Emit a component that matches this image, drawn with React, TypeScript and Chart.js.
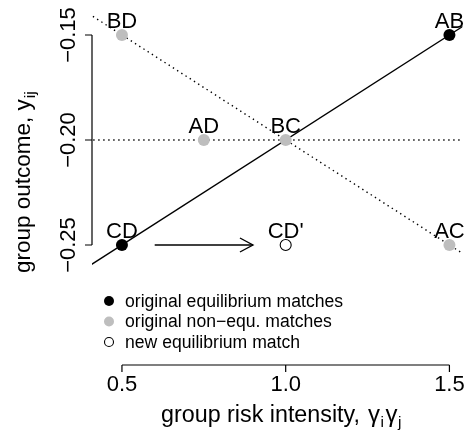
import React, { useEffect, useRef } from "react";
import { Chart, registerables } from "chart.js";

Chart.register(...registerables);

// ---- data ----
const xTicks = [0.5, 1.0, 1.5];
const xTickLabels = ["0.5", "1.0", "1.5"];
const yTicks = [-0.25, -0.2, -0.15];
const yTickLabels = ["\u22120.25", "\u22120.20", "\u22120.15"];

const eqLabels = ["CD", "AB"];
const eqX = [0.5, 1.5];
const eqY = [-0.25, -0.15];

const nonEqLabels = ["BD", "AD", "BC", "AC"];
const nonEqX = [0.5, 0.75, 1.0, 1.5];
const nonEqY = [-0.15, -0.2, -0.2, -0.25];

const newLabels = ["CD'"];
const newX = [1.0];
const newY = [-0.25];

const solidLineX = [0.0, 2.0];
const solidLineY = [-0.3, -0.1];
const diagLineX = [0.0, 2.0];
const diagLineY = [-0.1, -0.3];
const hLineX = [0.0, 2.0];
const hLineY = [-0.2, -0.2];
const arrowX = [0.6, 0.9];
const arrowY = [-0.25, -0.25];

const legendLabels = [
  "original equilibrium matches",
  "original non\u2212equ. matches",
  "new equilibrium match",
];

const xMin = 0.40854;
const xMax = 1.53963;
const yMin = -0.307143;
const yMax = -0.140476;

const FONT = '"Liberation Sans", Arial, Helvetica, sans-serif';
const GRAY = "#BEBEBE";
const LW = 1.4;

const zip = (xs: number[], ys: number[]) => xs.map((x, i) => ({ x, y: ys[i] }));

const overlay = {
  id: "overlay",
  beforeDraw(chart: any) {
    const ctx = chart.ctx;
    ctx.save();
    ctx.fillStyle = "#fff";
    ctx.fillRect(0, 0, chart.width, chart.height);
    ctx.restore();
  },
  afterDatasetsDraw(chart: any) {
    const ctx: CanvasRenderingContext2D = chart.ctx;
    const xs = chart.scales.x;
    const ys = chart.scales.y;
    const area = chart.chartArea;
    ctx.save();
    ctx.fillStyle = "#000";
    ctx.strokeStyle = "#000";
    ctx.lineWidth = LW;

    // arrow head
    const tx = xs.getPixelForValue(arrowX[1]);
    const ty = ys.getPixelForValue(arrowY[1]);
    ctx.beginPath();
    ctx.moveTo(tx - 13, ty - 7);
    ctx.lineTo(tx, ty);
    ctx.lineTo(tx - 13, ty + 7);
    ctx.stroke();

    // point labels
    ctx.font = `22px ${FONT}`;
    ctx.textAlign = "center";
    ctx.textBaseline = "alphabetic";
    const drawLabels = (labels: string[], lx: number[], ly: number[]) => {
      labels.forEach((l, i) => {
        ctx.fillText(l, xs.getPixelForValue(lx[i]), ys.getPixelForValue(ly[i]) - 7);
      });
    };
    drawLabels(eqLabels, eqX, eqY);
    drawLabels(nonEqLabels, nonEqX, nonEqY);
    drawLabels(newLabels, newX, newY);

    // x axis
    const axY = area.bottom;
    const x0 = xs.getPixelForValue(xTicks[0]);
    const x1 = xs.getPixelForValue(xTicks[xTicks.length - 1]);
    ctx.lineWidth = 1.2;
    ctx.beginPath();
    ctx.moveTo(x0, axY);
    ctx.lineTo(x1, axY);
    xTicks.forEach((t) => {
      const p = xs.getPixelForValue(t);
      ctx.moveTo(p, axY);
      ctx.lineTo(p, axY + 7);
    });
    ctx.stroke();
    ctx.textAlign = "center";
    xTicks.forEach((t, i) => {
      ctx.fillText(xTickLabels[i], xs.getPixelForValue(t), axY + 26);
    });

    // x title with subscripts
    const titleF = `23.3px ${FONT}`;
    const gammaF = `24px ${FONT}`;
    const subF = `15.5px ${FONT}`;
    const xParts: [string, string, number, number][] = [
      ["group risk intensity, ", titleF, 0, 1.5],
      ["\u03b3", gammaF, 0, 0.5],
      ["i", subF, 5, 1.5],
      ["\u03b3", gammaF, 0, 0.5],
      ["j", subF, 5, 0],
    ];
    ctx.textAlign = "left";
    let cx = 161;
    xParts.forEach(([s, f, dy, gap]) => {
      ctx.font = f;
      ctx.fillText(s, cx, 422 + dy);
      cx += ctx.measureText(s).width + gap;
    });

    // y axis
    const axX = area.left;
    const yA = ys.getPixelForValue(yTicks[0]);
    const yB = ys.getPixelForValue(yTicks[yTicks.length - 1]);
    ctx.beginPath();
    ctx.moveTo(axX, yA);
    ctx.lineTo(axX, yB);
    yTicks.forEach((t) => {
      const p = ys.getPixelForValue(t);
      ctx.moveTo(axX, p);
      ctx.lineTo(axX - 7, p);
    });
    ctx.stroke();
    ctx.font = `22px ${FONT}`;
    ctx.textAlign = "center";
    yTicks.forEach((t, i) => {
      const p = ys.getPixelForValue(t);
      ctx.save();
      ctx.translate(axX - 17, p);
      ctx.rotate(-Math.PI / 2);
      ctx.fillText(yTickLabels[i], 0, 0);
      ctx.restore();
    });

    // y title
    const yParts: [string, string, number, number][] = [
      ["group outcome, y", `22.5px ${FONT}`, 0, 1],
      ["ij", subF, 5, 0],
    ];
    ctx.save();
    ctx.translate(30, 273);
    ctx.rotate(-Math.PI / 2);
    ctx.textAlign = "left";
    let cy = 0;
    yParts.forEach(([s, f, dy, gap]) => {
      ctx.font = f;
      ctx.fillText(s, cy, dy);
      cy += ctx.measureText(s).width + gap;
    });
    ctx.restore();

    // legend
    const lgX = area.left + 17;
    const lgY0 = 301;
    const lgDy = 20.5;
    ctx.font = `17.6px ${FONT}`;
    ctx.textAlign = "left";
    ctx.textBaseline = "middle";
    legendLabels.forEach((l, i) => {
      const yy = lgY0 + i * lgDy;
      ctx.beginPath();
      ctx.arc(lgX, yy, i === 2 ? 4.5 : 5, 0, Math.PI * 2);
      if (i === 0) {
        ctx.fillStyle = "#000";
        ctx.fill();
      } else if (i === 1) {
        ctx.fillStyle = GRAY;
        ctx.fill();
      } else {
        ctx.fillStyle = "#fff";
        ctx.fill();
        ctx.lineWidth = 1.1;
        ctx.strokeStyle = "#000";
        ctx.stroke();
      }
      ctx.fillStyle = "#000";
      ctx.fillText(l, lgX + 16, yy + 1);
    });
    ctx.restore();
  },
};

export default function App() {
  const ref = useRef<HTMLCanvasElement | null>(null);
  useEffect(() => {
    if (!ref.current) return;
    const chart = new Chart(ref.current, {
      type: "scatter",
      data: {
        datasets: [
          {
            label: "equilibrium",
            data: zip(eqX, eqY),
            pointRadius: 6,
            pointBackgroundColor: "#000",
            pointBorderColor: "#000",
            pointBorderWidth: 0,
            showLine: false,
            order: 0,
          },
          {
            label: "non-equ",
            data: zip(nonEqX, nonEqY),
            pointRadius: 6,
            pointBackgroundColor: GRAY,
            pointBorderColor: GRAY,
            pointBorderWidth: 0,
            showLine: false,
            order: 0,
          },
          {
            label: "new",
            data: zip(newX, newY),
            pointRadius: 5.5,
            pointBackgroundColor: "#fff",
            pointBorderColor: "#000",
            pointBorderWidth: 1.1,
            showLine: false,
            order: 0,
          },
          {
            label: "solid",
            data: zip(solidLineX, solidLineY),
            showLine: true,
            borderColor: "#000",
            borderWidth: LW,
            pointRadius: 0,
            order: 1,
          },
          {
            label: "diag",
            data: zip(diagLineX, diagLineY),
            showLine: true,
            borderColor: "#000",
            borderWidth: LW,
            borderDash: [1.4, 3.6],
            pointRadius: 0,
            order: 2,
          },
          {
            label: "h",
            data: zip(hLineX, hLineY),
            showLine: true,
            borderColor: "#000",
            borderWidth: LW,
            borderDash: [1.4, 3.6],
            pointRadius: 0,
            order: 2,
          },
          {
            label: "arrow",
            data: zip(arrowX, arrowY),
            showLine: true,
            borderColor: "#000",
            borderWidth: LW,
            pointRadius: 0,
            order: 1,
          },
        ],
      },
      options: {
        animation: false,
        responsive: false,
        maintainAspectRatio: false,
        layout: { padding: { left: 92, right: 6, top: 15, bottom: 69 } },
        plugins: { legend: { display: false }, tooltip: { enabled: false } },
        events: [],
        scales: {
          x: { type: "linear", min: xMin, max: xMax, display: false },
          y: { type: "linear", min: yMin, max: yMax, display: false },
        },
      },
      plugins: [overlay],
    });
    return () => chart.destroy();
  }, []);
  return (
    <div style={{ position: "fixed", left: 0, top: 0, width: 469, height: 434, background: "#fff" }}>
      <canvas ref={ref} width={469} height={434} style={{ width: 469, height: 434 }} />
    </div>
  );
}
